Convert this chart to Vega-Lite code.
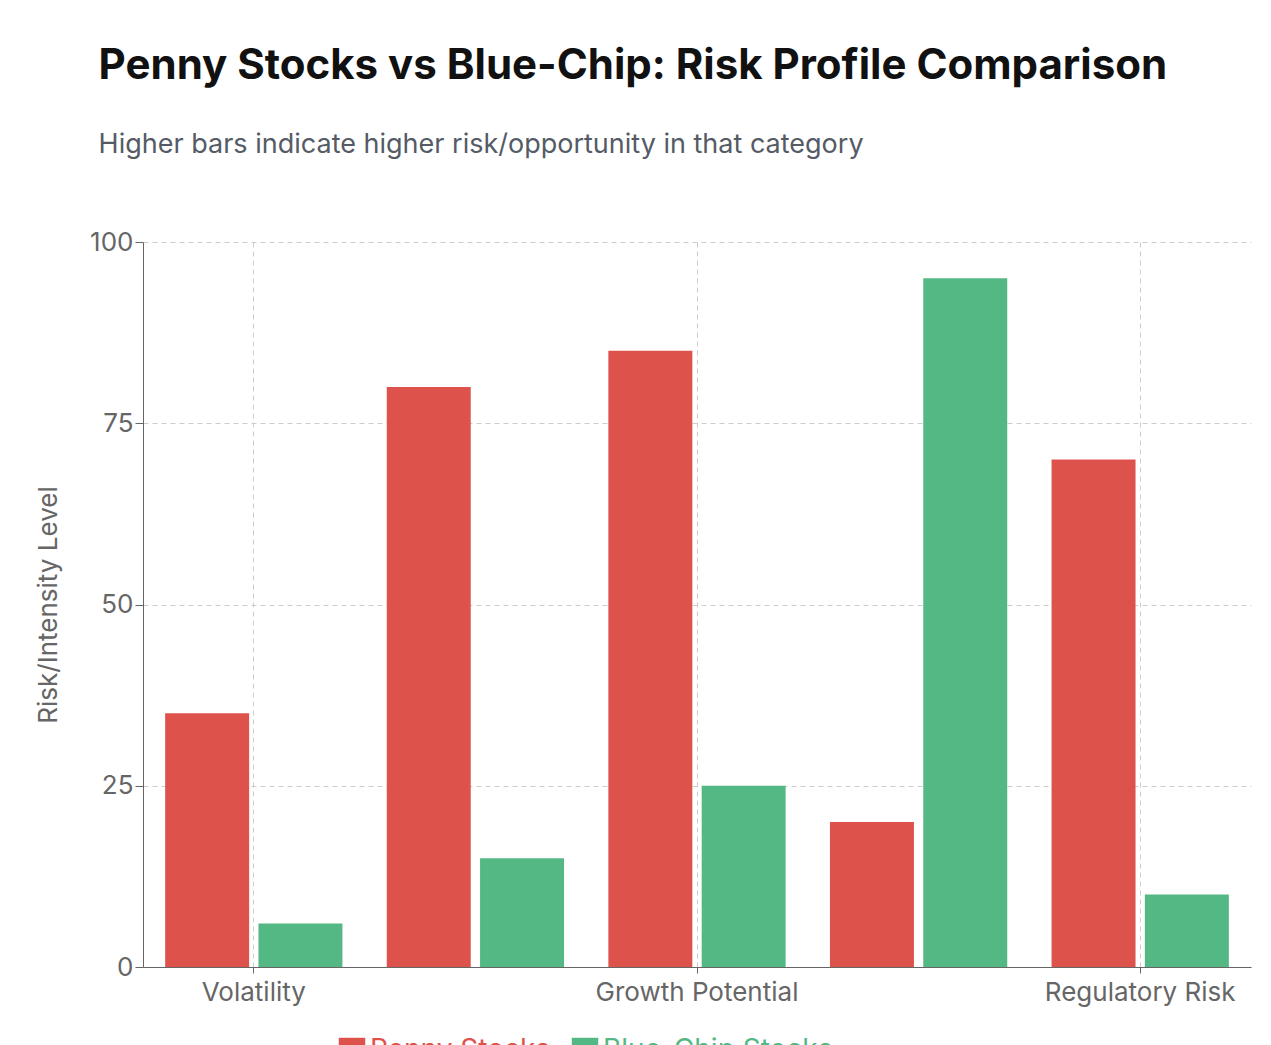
{
  "$schema": "https://vega.github.io/schema/vega-lite/v6.json",
  "width": 1271,
  "height": 1045,
  "autosize": {"type": "fit", "contains": "padding"},
  "padding": {"left": 35, "top": 45, "right": 20, "bottom": 40},
  "background": "white",
  "title": {
    "text": "Penny Stocks vs Blue-Chip: Risk Profile Comparison",
    "subtitle": "Higher bars indicate higher risk/opportunity in that category",
    "anchor": "start",
    "frame": "bounds",
    "font": "Inter",
    "fontSize": 42,
    "fontWeight": "bold",
    "color": "#111111",
    "dx": 63,
    "subtitleFont": "Inter",
    "subtitleFontSize": 27,
    "subtitleColor": "#555b66",
    "subtitlePadding": 44,
    "offset": 70
  },
  "config": {
    "view": {"stroke": null},
    "font": "Inter",
    "axis": {
      "labelFont": "Inter",
      "titleFont": "Inter",
      "labelFontSize": 26,
      "labelColor": "#666666",
      "labelLimit": 0,
      "gridColor": "#cccccc",
      "gridDash": [5, 4],
      "domainColor": "#666666",
      "tickColor": "#666666"
    }
  },
  "data": {
    "values": [
      {"category": "Volatility", "type": "Penny Stocks", "value": 35},
      {"category": "Volatility", "type": "Blue-Chip Stocks", "value": 6},
      {"category": "Liquidity Risk", "type": "Penny Stocks", "value": 80},
      {"category": "Liquidity Risk", "type": "Blue-Chip Stocks", "value": 15},
      {"category": "Growth Potential", "type": "Penny Stocks", "value": 85},
      {"category": "Growth Potential", "type": "Blue-Chip Stocks", "value": 25},
      {"category": "Stability", "type": "Penny Stocks", "value": 20},
      {"category": "Stability", "type": "Blue-Chip Stocks", "value": 95},
      {"category": "Regulatory Risk", "type": "Penny Stocks", "value": 70},
      {"category": "Regulatory Risk", "type": "Blue-Chip Stocks", "value": 10}
    ]
  },
  "mark": {"type": "bar"},
  "encoding": {
    "x": {
      "field": "category",
      "type": "nominal",
      "sort": null,
      "scale": {"paddingInner": 0.2, "paddingOuter": 0.1},
      "axis": {
        "title": null,
        "labelAngle": 0,
        "grid": true,
        "values": ["Volatility", "Growth Potential", "Regulatory Risk"],
        "tickSize": 6,
        "labelPadding": 6
      }
    },
    "xOffset": {"field": "type", "sort": ["Penny Stocks", "Blue-Chip Stocks"], "scale": {"paddingInner": 0.1}},
    "y": {
      "field": "value",
      "type": "quantitative",
      "scale": {"domain": [0, 100]},
      "axis": {
        "title": "Risk/Intensity Level",
        "titleFontSize": 26,
        "titleFontWeight": "normal",
        "titleColor": "#666666",
        "values": [0, 25, 50, 75, 100],
        "tickSize": 8,
        "titlePadding": 28
      }
    },
    "color": {
      "field": "type",
      "type": "nominal",
      "sort": ["Penny Stocks", "Blue-Chip Stocks"],
      "scale": {"domain": ["Penny Stocks", "Blue-Chip Stocks"], "range": ["#de524c", "#54b884"]},
      "legend": {
        "orient": "none",
        "legendX": 195,
        "legendY": 70,
        "title": null,
        "direction": "horizontal",
        "symbolType": "square",
        "symbolSize": 700,
        "symbolStrokeWidth": 0,
        "labelFontSize": 28,
        "labelFont": "Inter",
        "labelLimit": 0,
        "columnPadding": 20,
        "encode": {
          "labels": {"update": {"fill": {"signal": "datum.value == 'Penny Stocks' ? '#de524c' : '#54b884'"}}},
          "legend": {"update": {"y": {"signal": "height + 70"}}}
        }
      }
    }
  }
}
